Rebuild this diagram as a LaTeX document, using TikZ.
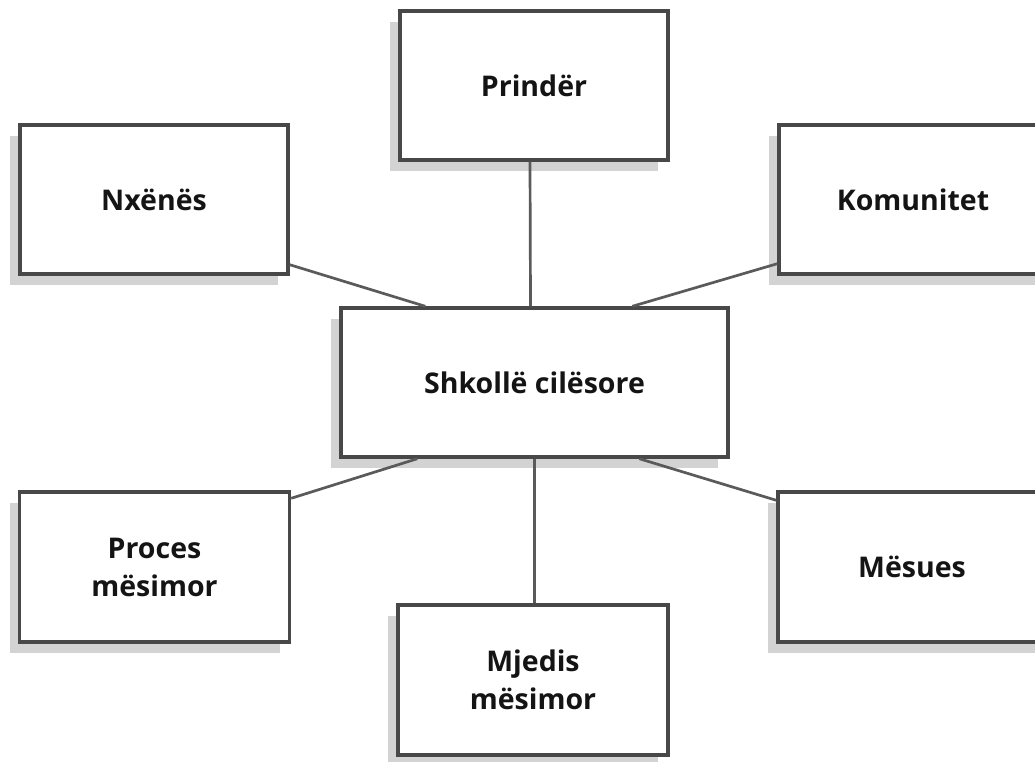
\documentclass[tikz,border=0pt]{standalone}
\usepackage{fontspec}
\setmainfont{Open Sans}
\usetikzlibrary{calc,shadows}
\definecolor{boxline}{HTML}{484848}
\definecolor{conn}{HTML}{5A5A5A}
\definecolor{shade}{HTML}{D3D3D3}
\tikzset{
  box/.style={draw=boxline, line width=3.4pt, fill=white, rectangle, inner sep=0pt,
    minimum width=268pt, minimum height=149pt, align=center,
    font=\fontsize{28.5}{38}\selectfont\bfseries, text=black!92,
    general shadow={fill=shade, shadow xshift=-10pt, shadow yshift=-11pt}},
  link/.style={draw=conn, line width=2.7pt}
}
\begin{document}
\begin{tikzpicture}[x=1pt,y=-1pt]
\useasboundingbox (0,0) rectangle (1035,762);
\node[box] (prinder) at (534,85.5) {Prindër};
\node[box] (nxenes) at (154,199.5) {Nxënës};
\node[box] (komunitet) at (913,199.5) {Komunitet};
\node[box, minimum width=387pt] (center) at (534.5,382.5) {Shkollë cilësore};
\node[box, minimum width=270pt, minimum height=150pt] (proces) at (154.5,567) {Proces\\mësimor};
\node[box, minimum height=150pt] (mesues) at (912,567) {Mësues};
\node[box, minimum width=270pt, minimum height=150pt] (mjedis) at (533,680) {Mjedis\\mësimor};
\draw[link] ($(prinder.south)+(-4,0)$) -- ($(center.north)+(-4,0)$);
\draw[link] ($(nxenes.south east)+(0,-11)$) -- ($(center.north west)+(86,0)$);
\draw[link] ($(komunitet.south west)+(0,-12)$) -- ($(center.north west)+(293,0)$);
\draw[link] ($(proces.north east)+(0,8)$) -- ($(center.south west)+(78,0)$);
\draw[link] ($(mesues.north west)+(0,10)$) -- ($(center.south west)+(300,0)$);
\draw[link] (center.south) -- (mjedis.north -| center.south);
\end{tikzpicture}
\end{document}
